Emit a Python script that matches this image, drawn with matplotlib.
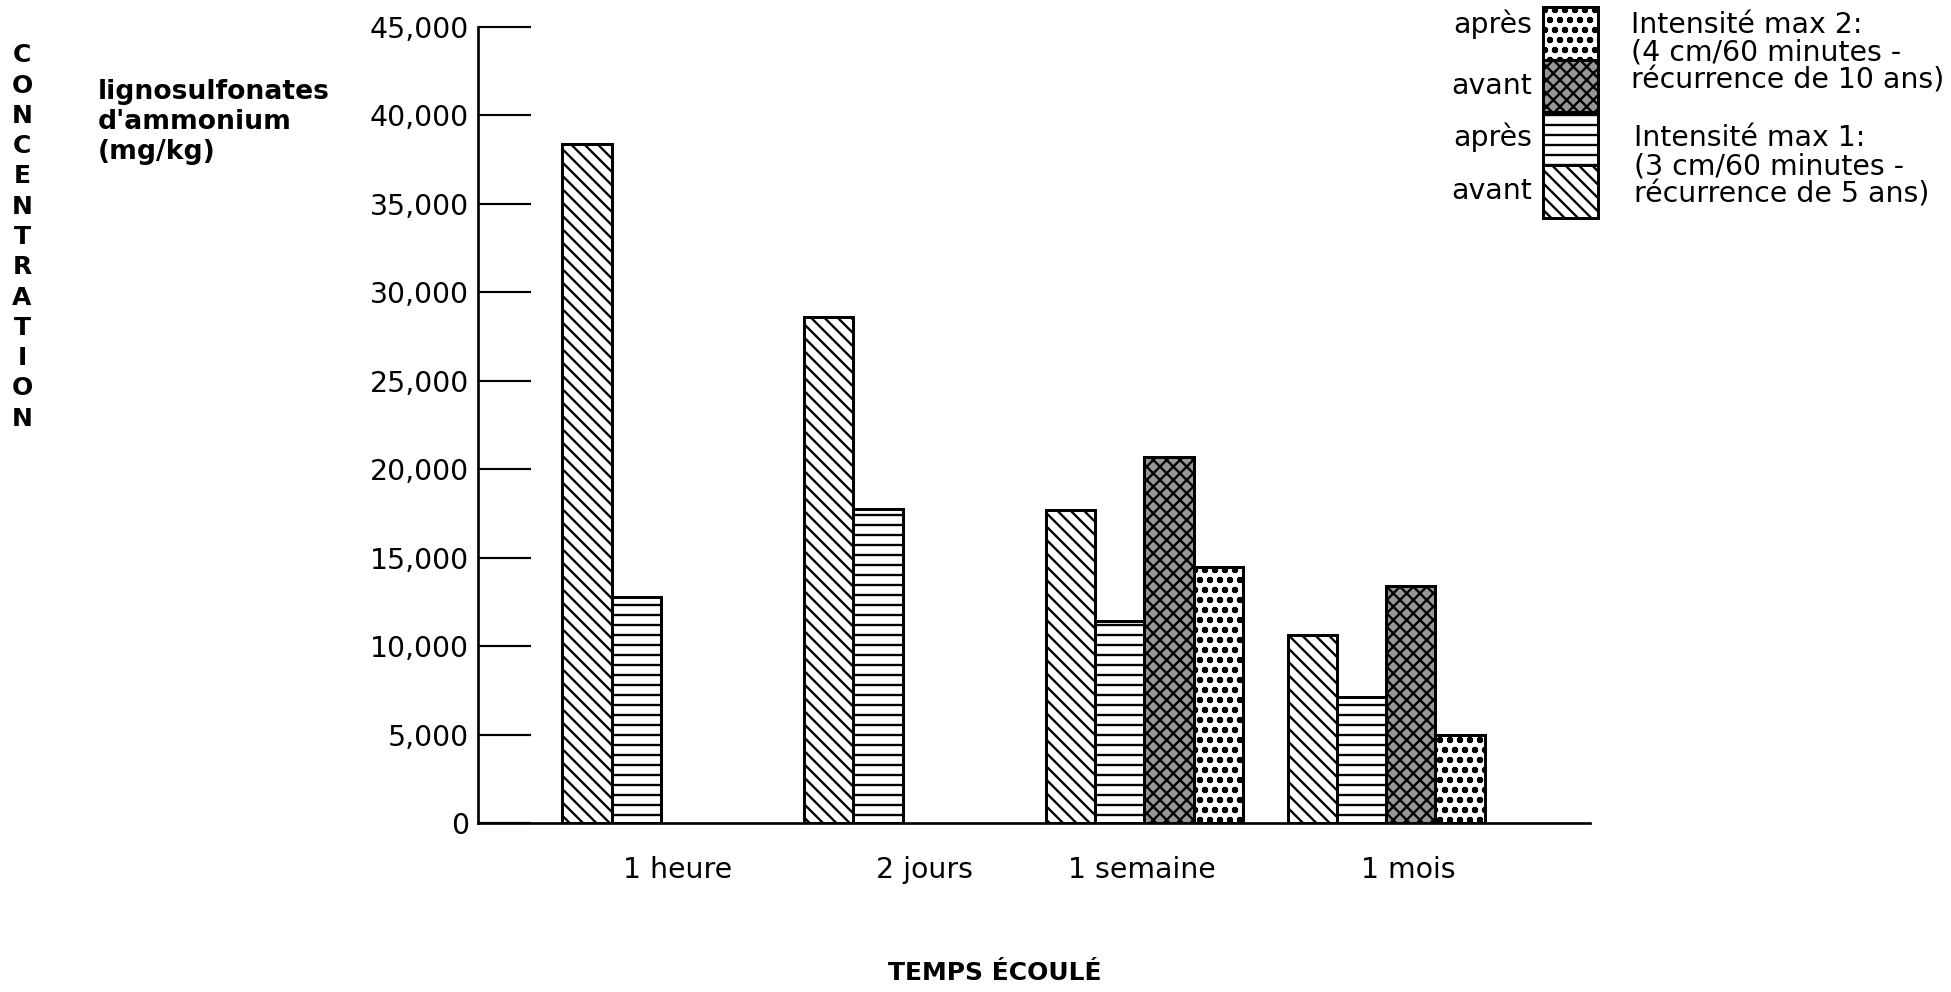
import numpy as np
import matplotlib
matplotlib.use("Agg")
import matplotlib.pyplot as plt
import matplotlib.transforms as mtransforms
from matplotlib.patches import Rectangle

DPI = 120
W, H = 1951, 992

plt.rcParams["font.family"] = ["DejaVu Sans"]
plt.rcParams["hatch.linewidth"] = 1.4
plt.rcParams["hatch.color"] = "black"

# ---- data -----------------------------------------------------------
categories = ["1 heure", "2 jours", "1 semaine", "1 mois"]
avant_max1 = [38400, 28600, 17700, 10600]
apres_max1 = [12800, 17750, 11400, 7150]
avant_max2 = [np.nan, np.nan, 20700, 13400]
apres_max2 = [np.nan, np.nan, 14500, 5000]

y_ticks = [0, 5000, 10000, 15000, 20000, 25000, 30000, 35000, 40000, 45000]
y_tick_labels = ["0", "5,000", "10,000", "15,000", "20,000", "25,000",
                 "30,000", "35,000", "40,000", "45,000"]

legend_side = ["après", "avant", "après", "avant"]
legend_block_2 = ["Intensité max 2:", "(4 cm/60 minutes -", "récurrence de 10 ans)"]
legend_block_1 = ["Intensité max 1:", "(3 cm/60 minutes -", "récurrence de 5 ans)"]

# ---- styles ----------------------------------------------------------
HATCH_AVANT_1 = "\\\\\\"
HATCH_APRES_1 = "--"
HATCH_AVANT_2 = "xxx"
HATCH_APRES_2 = "oo"
FACE_AVANT_2 = "#969696"
series = [
    (avant_max1, HATCH_AVANT_1, "white"),
    (apres_max1, HATCH_APRES_1, "white"),
    (avant_max2, HATCH_AVANT_2, FACE_AVANT_2),
    (apres_max2, HATCH_APRES_2, "white"),
]

BAR_W = 0.2035          # bar width, in group-spacing units
LABEL_X = [0.478, 1.497, 2.398, 3.499]   # category label centres
FS = 17

fig = plt.figure(figsize=(W / DPI, H / DPI), dpi=DPI)
fig.patch.set_facecolor("white")

def px_axes(x0, y0, x1, y1):
    """Axes rectangle given in pixel coordinates measured from top-left."""
    return [x0 / W, 1 - y1 / H, (x1 - x0) / W, (y1 - y0) / H]

ax = fig.add_axes(px_axes(478, 27, 1590, 823))

groups = np.arange(len(categories))
for k, (vals, hatch, face) in enumerate(series):
    vals = np.asarray(vals, dtype=float)
    ok = ~np.isnan(vals)
    ax.bar(groups[ok] + k * BAR_W, vals[ok], width=BAR_W, align="edge",
           facecolor=face, edgecolor="black", linewidth=1.8, hatch=hatch,
           zorder=3)

ax.set_xlim(-0.349, 4.25)
ax.set_ylim(0, 45000)

for side in ("top", "right"):
    ax.spines[side].set_visible(False)
for side in ("left", "bottom"):
    ax.spines[side].set_linewidth(1.6)
    ax.spines[side].set_zorder(4)

ax.set_yticks(y_ticks)
ax.set_yticklabels(y_tick_labels)
ax.tick_params(axis="y", direction="in", length=32, width=1.3, pad=5.5,
               labelsize=FS)
ax.set_xticks([])

# category labels under the axis
trans = mtransforms.blended_transform_factory(ax.transData, fig.transFigure)
for xc, lab in zip(LABEL_X, categories):
    ax.text(xc, 1 - 870 / H, lab, transform=trans, ha="center", va="center",
            fontsize=FS)

fig.text(995 / W, 1 - 973 / H, "TEMPS ÉCOULÉ", ha="center", va="center",
         fontsize=15, fontweight="bold")

# vertical stacked axis title
fig.text(22 / W, 1 - 237 / H, "\n".join("CONCENTRATION"), ha="center",
         va="center", fontsize=15, fontweight="bold", linespacing=1.33)

fig.text(98 / W, 1 - 122 / H, "lignosulfonates\nd'ammonium\n(mg/kg)",
         ha="left", va="center", fontsize=16, fontweight="bold",
         linespacing=1.2)

# ---- stacked pattern key --------------------------------------------
lax = fig.add_axes(px_axes(1543, 7, 1598, 218))
lax.set_xlim(0, 1)
lax.set_ylim(0, 4)
lax.axis("off")
key_styles = [(HATCH_AVANT_1, "white"), (HATCH_APRES_1, "white"),
              (HATCH_AVANT_2, FACE_AVANT_2), (HATCH_APRES_2, "white")]
for i, (h, face) in enumerate(key_styles):
    lax.add_patch(Rectangle((0, i), 1, 1, facecolor=face, edgecolor="black",
                            linewidth=1.8, hatch=h, clip_on=False))

side_y = [24, 86, 137, 191]
for lab, yy in zip(legend_side, side_y):
    fig.text(1532 / W, 1 - yy / H, lab, ha="right", va="center", fontsize=FS)

for i, line in enumerate(legend_block_2):
    fig.text(1631 / W, 1 - (25 + 28 * i) / H, line, ha="left", va="center",
             fontsize=FS)
for i, line in enumerate(legend_block_1):
    fig.text(1634 / W, 1 - (138 + 28 * i) / H, line, ha="left", va="center",
             fontsize=FS)

fig.savefig("out.png", dpi=DPI, facecolor="white")
